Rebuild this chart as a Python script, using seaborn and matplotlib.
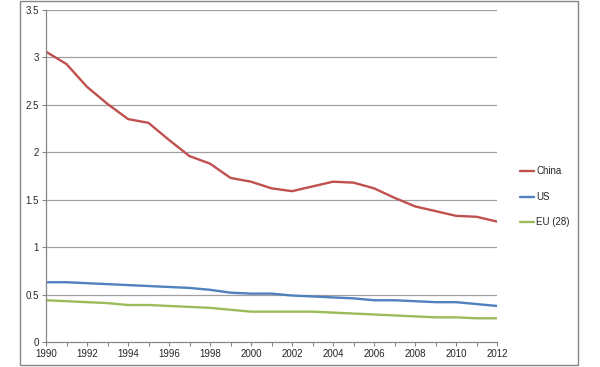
import matplotlib
matplotlib.use("Agg")
import matplotlib.pyplot as plt
import seaborn as sns
import pandas as pd
from matplotlib.patches import Rectangle

years = list(range(1990, 2013))
china = [3.06, 2.93, 2.69, 2.51, 2.35, 2.31, 2.13, 1.96, 1.88, 1.73, 1.69, 1.62,
         1.59, 1.64, 1.69, 1.68, 1.62, 1.52, 1.43, 1.38, 1.33, 1.32, 1.27]
us = [0.63, 0.63, 0.62, 0.61, 0.60, 0.59, 0.58, 0.57, 0.55, 0.52, 0.51, 0.51,
      0.49, 0.48, 0.47, 0.46, 0.44, 0.44, 0.43, 0.42, 0.42, 0.40, 0.38]
eu = [0.44, 0.43, 0.42, 0.41, 0.39, 0.39, 0.38, 0.37, 0.36, 0.34, 0.32, 0.32,
      0.32, 0.32, 0.31, 0.30, 0.29, 0.28, 0.27, 0.26, 0.26, 0.25, 0.25]
series_names = ["China", "US", "EU (28)"]
colors = ["#C0504D", "#4F81BD", "#9BBB59"]
y_ticks = [0, 0.5, 1, 1.5, 2, 2.5, 3, 3.5]
y_labels = ["0", "0.5", "1", "1.5", "2", "2.5", "3", "3.5"]

df = pd.DataFrame({
    "year": years * 3,
    "value": china + us + eu,
    "series": [series_names[0]] * len(years) + [series_names[1]] * len(years) + [series_names[2]] * len(years),
})

sns.set_style("white")
plt.rcParams["font.family"] = ["Liberation Sans", "DejaVu Sans"]

fig = plt.figure(figsize=(6, 3.67), dpi=100)
ax = fig.add_axes([46 / 600, 1 - 342 / 367, (497 - 46) / 600, (342 - 10) / 367])

# outer chart border
fig.patches.append(Rectangle((20 / 600, 1 - 365 / 367), 558 / 600, 364 / 367,
                             transform=fig.transFigure, fill=False,
                             edgecolor="#868686", linewidth=1.0))

for yt in y_ticks[1:]:
    ax.axhline(yt, color="#A0A0A0", linewidth=0.9, zorder=0)

sns.lineplot(data=df, x="year", y="value", hue="series", hue_order=series_names,
             palette=colors, linewidth=1.7, ax=ax, legend=False)

ax.set_xlim(1990, 2012)
ax.set_ylim(0, 3.5)
ax.set_xlabel("")
ax.set_ylabel("")
ax.set_yticks(y_ticks)
ax.set_yticklabels(y_labels)
ax.set_xticks(list(range(1990, 2013, 2)))
ax.set_xticklabels([str(y) for y in range(1990, 2013, 2)])
ax.set_xticks(years, minor=True)
ax.tick_params(axis="both", which="both", direction="out", length=3, width=0.8,
               color="#868686", labelsize=7, pad=2, bottom=True, left=True)
ax.tick_params(axis="x", which="minor", length=3)

for s in ["top", "right"]:
    ax.spines[s].set_visible(False)
for s in ["left", "bottom"]:
    ax.spines[s].set_color("#868686")
    ax.spines[s].set_linewidth(0.9)

handles = [plt.Line2D([], [], color=c, linewidth=1.7) for c in colors]
ax.legend(handles, series_names, loc="center left", bbox_to_anchor=(1.05, 0.437),
          frameon=False, fontsize=7, handlelength=1.5, handletextpad=0.2,
          labelspacing=1.6, borderpad=0, borderaxespad=0)

fig.savefig("out.png", dpi=100)
